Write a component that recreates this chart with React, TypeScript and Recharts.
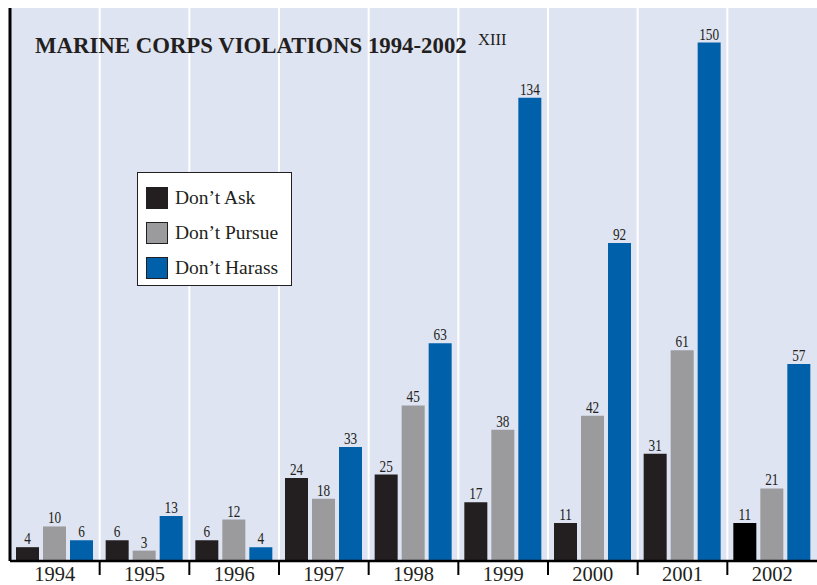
import React from 'react';
import { BarChart, Bar, XAxis, YAxis, CartesianGrid, LabelList, Cell } from 'recharts';

const years = ['1994', '1995', '1996', '1997', '1998', '1999', '2000', '2001', '2002'];
const dontAsk = [4, 6, 6, 24, 25, 17, 11, 31, 11];
const dontPursue = [10, 3, 12, 18, 45, 38, 42, 61, 21];
const dontHarass = [6, 13, 4, 33, 63, 134, 92, 150, 57];
const seriesNames = ["Don\u2019t Ask", "Don\u2019t Pursue", "Don\u2019t Harass"];

const data = years.map((y, i) => ({
  year: y,
  ask: dontAsk[i],
  pursue: dontPursue[i],
  harass: dontHarass[i],
}));

const W = 817;
const H = 585;
const MARGIN = { top: 8, right: 0, bottom: 0, left: 0 };
const Y_W = 10;
const X_H = 24;
const PLOT_W = W - MARGIN.left - MARGIN.right - Y_W;
const BAND = PLOT_W / years.length;

const FONT = "'Liberation Serif', 'Times New Roman', serif";
const C_ASK = '#231f20';
const C_PURSUE = '#9b9b9d';
const C_HARASS = '#0060aa';
const BG = '#dfe4f2';

const XTick = (props: any) => {
  const { x, y, payload, index } = props;
  return (
    <g>
      {index < years.length - 1 && (
        <line x1={x + BAND / 2} x2={x + BAND / 2} y1={y - 8} y2={y + 6} stroke="#000" strokeWidth={2} />
      )}
      <text x={x} y={y + 11.5} textAnchor="middle" fontFamily={FONT} fontSize={20.5} fill="#231f20">
        {payload.value}
      </text>
    </g>
  );
};

const BarValueLabel = (props: any) => {
  const { x, y, width, value } = props;
  const cx = x + width / 2;
  const by = y - 3;
  return (
    <text
      transform={`translate(${cx},${by}) scale(0.78,1)`}
      textAnchor="middle"
      fontFamily={FONT}
      fontSize={17}
      fill="#231f20"
    >
      {value}
    </text>
  );
};

const LegendBox = () => {
  const colors = [C_ASK, C_PURSUE, C_HARASS];
  return (
    <div
      style={{
        position: 'absolute',
        left: 137,
        top: 172,
        width: 155,
        height: 114,
        border: '1.5px solid #231f20',
        background: '#ffffff',
        boxSizing: 'border-box',
        padding: '7px 0 0 8px',
        fontFamily: FONT,
      }}
    >
      {seriesNames.map((n, i) => (
        <div key={n} style={{ display: 'flex', alignItems: 'center', height: 35 }}>
          <div
            style={{
              width: 22,
              height: 22,
              background: colors[i],
              border: '1.5px solid #231f20',
              boxSizing: 'border-box',
              marginRight: 7,
            }}
          />
          <span style={{ fontSize: 19.5, color: '#231f20' }}>{n}</span>
        </div>
      ))}
    </div>
  );
};

export default function App() {
  return (
    <div style={{ position: 'absolute', left: 0, top: 0, width: W, height: H, background: '#fff' }}>
      <BarChart width={W} height={H} data={data} margin={MARGIN} barSize={23} barGap={4}>
        <CartesianGrid
          horizontal={false}
          fill={BG}
          fillOpacity={1}
          stroke="#ffffff"
          strokeWidth={2}
          verticalCoordinatesGenerator={({ offset }: any) =>
            years.slice(1).map((_, i) => offset.left + ((i + 1) * offset.width) / years.length)
          }
        />
        <XAxis
          dataKey="year"
          height={X_H}
          interval={0}
          tickLine={false}
          axisLine={{ stroke: '#000', strokeWidth: 2.5 }}
          tick={<XTick />}
        />
        <YAxis
          width={Y_W}
          domain={[0, 160]}
          tick={false}
          tickLine={false}
          axisLine={{ stroke: '#000', strokeWidth: 3 }}
        />
        <Bar dataKey="ask" name={seriesNames[0]} fill={C_ASK} isAnimationActive={false}>
          {years.map((y, i) => (
            <Cell key={y} fill={i === years.length - 1 ? '#000000' : C_ASK} />
          ))}
          <LabelList dataKey="ask" content={<BarValueLabel />} />
        </Bar>
        <Bar dataKey="pursue" name={seriesNames[1]} fill={C_PURSUE} isAnimationActive={false}>
          <LabelList dataKey="pursue" content={<BarValueLabel />} />
        </Bar>
        <Bar dataKey="harass" name={seriesNames[2]} fill={C_HARASS} isAnimationActive={false}>
          <LabelList dataKey="harass" content={<BarValueLabel />} />
        </Bar>
        <text x={35} y={53} fontFamily={FONT} fontSize={22.8} fontWeight="bold" fill="#231f20">
          MARINE CORPS VIOLATIONS 1994-2002
        </text>
        <text x={478} y={45} fontFamily={FONT} fontSize={16.5} fill="#231f20">
          XIII
        </text>
      </BarChart>
      <LegendBox />
    </div>
  );
}
